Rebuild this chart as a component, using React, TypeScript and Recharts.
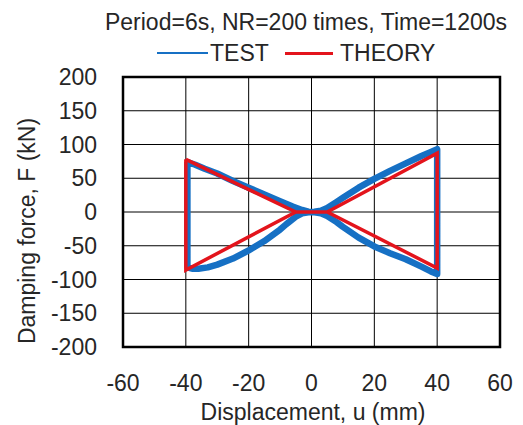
import { CartesianGrid, Line, LineChart, ReferenceArea, XAxis, YAxis } from 'recharts';

const xTicks = [-60, -40, -20, 0, 20, 40, 60];
const yTicks = [-200, -150, -100, -50, 0, 50, 100, 150, 200];

// measured hysteresis loop (thick band in the original)
const testX = [
  -39.5, -37, -34, -30, -25, -20, -15, -10, -6, -3, -1, 0, 1, 3, 5, 8, 10, 15, 20, 25, 30, 35, 38, 40, 40, 38,
  35, 30, 25, 20, 15, 10, 8, 5, 3, 1, 0, -1, -3, -5, -8, -10, -15, -20, -25, -30, -33, -36, -38, -39.5, -39.5,
];
const testY = [
  74, 70, 64, 57, 46, 36, 26, 16, 8, 3, 0.5, 0, 0.3, 2, 6, 15, 21, 36, 49, 61, 72, 83, 89, 93, -92, -88, -81,
  -70, -61, -51, -38, -22, -15, -6, -2, -0.3, 0, -0.3, -2, -7, -18, -26, -43, -57, -69, -78, -82, -84, -84,
  -82, 74,
];

const theoryX = [-40, -5, 5, 40, 40, 5, -5, -40, -40];
const theoryY = [78, 0, 0, 87, -83, 0, 0, -86, 78];

const testData = testX.map((x, i) => ({ x, y: testY[i] }));
const theoryData = theoryX.map((x, i) => ({ x, y: theoryY[i] }));

const FONT = '"Liberation Sans", Arial, sans-serif';
const TEXT = '#262626';
const BLUE = '#1670c4';
const RED = '#e3141c';

const yLabel = () => (
  <text
    x={27}
    y={231}
    transform="rotate(-90 27 231)"
    textAnchor="middle"
    dominantBaseline="central"
    fontSize={23}
    fontFamily={FONT}
    fill={TEXT}
  >
    Damping force, F (kN)
  </text>
);

const xLabel = () => (
  <text x={313} y={420} textAnchor="middle" fontSize={23} fontFamily={FONT} fill={TEXT}>
    Displacement, u (mm)
  </text>
);

export default function App() {
  const tick = { fontSize: 23, fontFamily: FONT, fill: TEXT };
  return (
    <div style={{ position: 'absolute', left: 0, top: 0, width: 523, height: 425, background: '#fff' }}>
      <LineChart width={523} height={425} margin={{ top: 77, right: 23, bottom: 38, left: 0 }}>
        <CartesianGrid stroke="#000" strokeWidth={1} />
        <XAxis
          type="number"
          dataKey="x"
          domain={[-60, 60]}
          ticks={xTicks}
          allowDataOverflow
          height={40}
          tickLine={false}
          axisLine={false}
          tickSize={0}
          tickMargin={28}
          tick={tick}
          label={xLabel}
        />
        <YAxis
          type="number"
          dataKey="y"
          domain={[-200, 200]}
          ticks={yTicks}
          allowDataOverflow
          width={123}
          tickLine={false}
          axisLine={false}
          tickSize={0}
          tickMargin={26}
          tick={tick}
          label={yLabel}
        />
        <ReferenceArea x1={-60} x2={60} y1={-200} y2={200} fill="none" fillOpacity={0} stroke="#000" strokeWidth={2.5} />
        <Line
          data={testData}
          dataKey="y"
          type="linear"
          stroke={BLUE}
          strokeWidth={6.5}
          strokeLinejoin="round"
          dot={false}
          isAnimationActive={false}
        />
        <Line
          data={theoryData}
          dataKey="y"
          type="linear"
          stroke={RED}
          strokeWidth={3.5}
          strokeLinejoin="miter"
          dot={false}
          isAnimationActive={false}
        />
      </LineChart>
      <div
        style={{
          position: 'absolute',
          top: 11,
          left: 306,
          transform: 'translateX(-50%)',
          whiteSpace: 'nowrap',
          fontFamily: FONT,
          fontSize: 23,
          lineHeight: '23px',
          color: TEXT,
        }}
      >
        Period=6s, NR=200 times, Time=1200s
      </div>
      <div style={{ position: 'absolute', top: 52, left: 157, width: 51, height: 2, background: BLUE }} />
      <div
        style={{ position: 'absolute', top: 42, left: 210, fontFamily: FONT, fontSize: 23, lineHeight: '23px', color: TEXT }}
      >
        TEST
      </div>
      <div style={{ position: 'absolute', top: 51.5, left: 285, width: 48, height: 3, background: RED }} />
      <div
        style={{ position: 'absolute', top: 42, left: 340, fontFamily: FONT, fontSize: 23, lineHeight: '23px', color: TEXT }}
      >
        THEORY
      </div>
    </div>
  );
}
